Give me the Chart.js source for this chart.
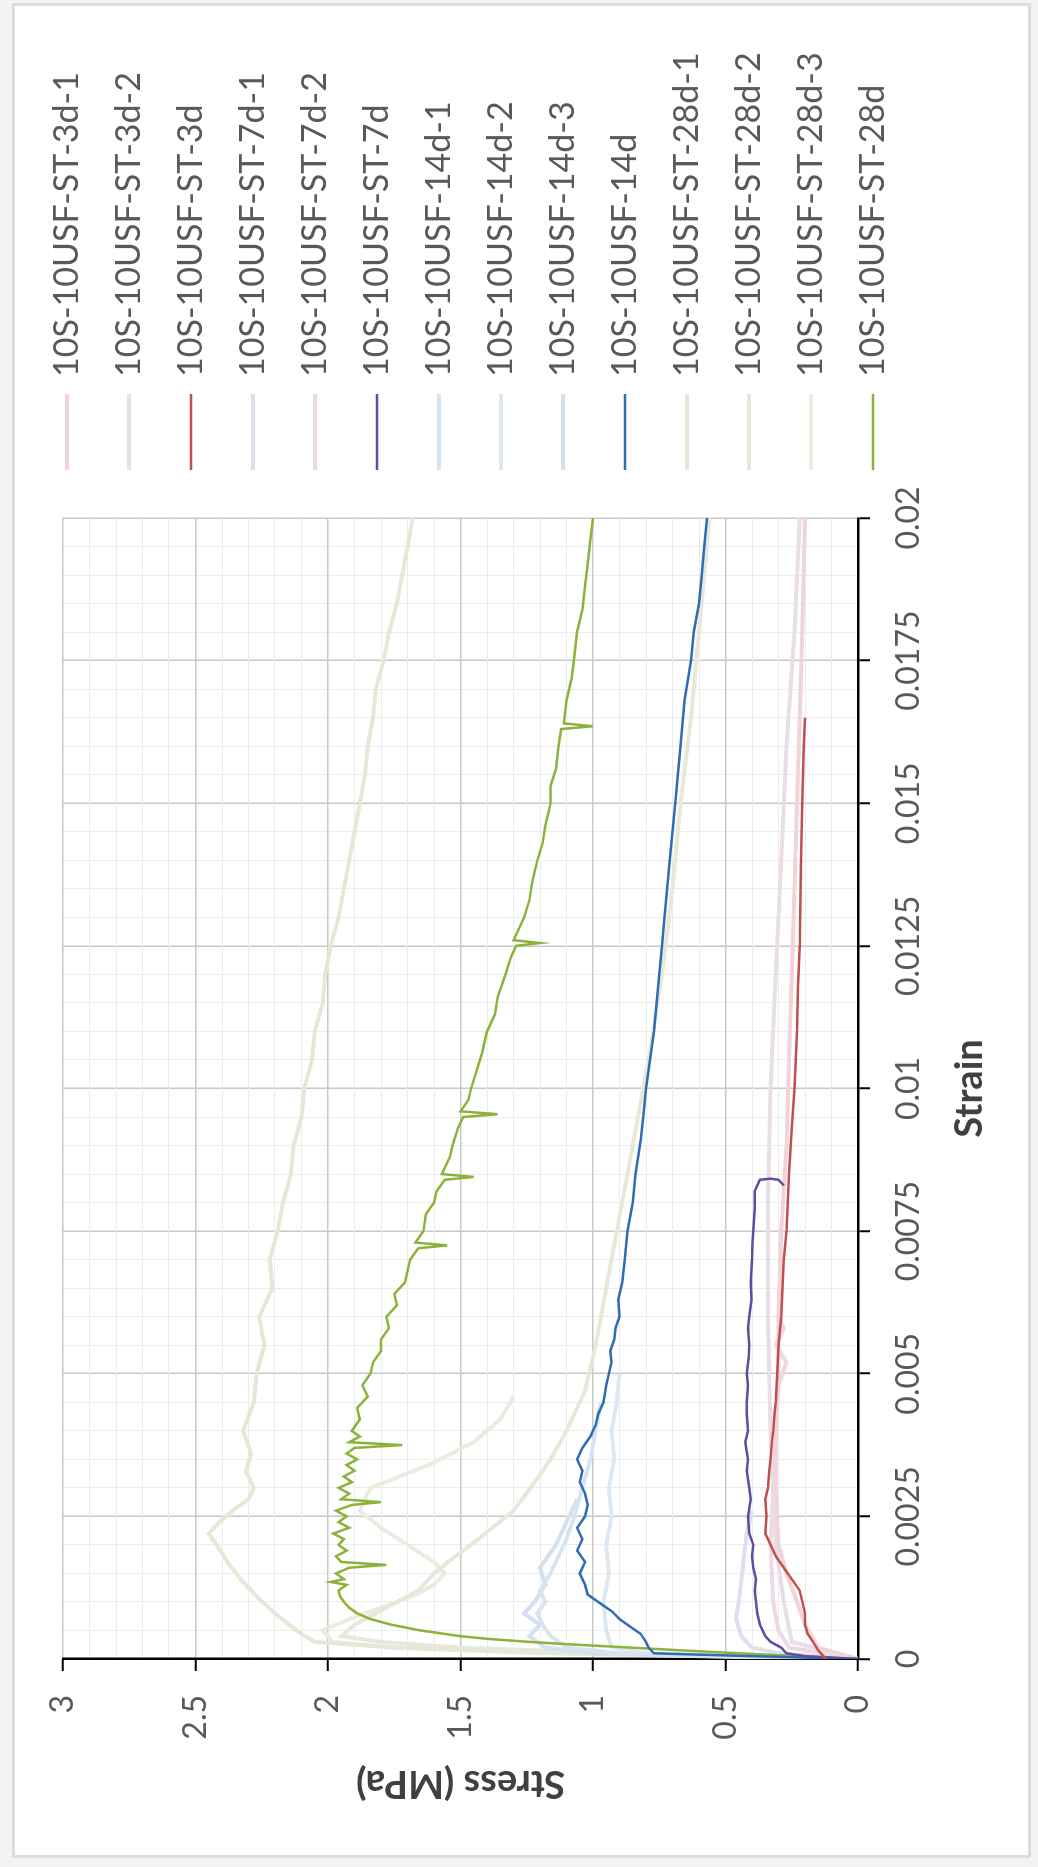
<!DOCTYPE html>
<html>
<head>
<meta charset="utf-8">
<style>
  html, body { margin: 0; padding: 0; background: #f3f3f3; overflow: hidden; }
  /* the chart is drawn landscape, then turned a quarter turn to the left */
  #turn { position: absolute; left: 0; top: 1867px; width: 1867px; height: 1038px;
          transform-origin: 0 0; transform: rotate(-90deg); }
  #frame { position: absolute; left: 9px; top: 12px; width: 1855px; height: 1019px;
           box-sizing: border-box; border: 3px solid #dcdcdc; background: #fff; }
  #stressChart { position: absolute; left: 0; top: 0; }
</style>
</head>
<body>
<div id="turn">
  <div id="frame"></div>
  <canvas id="stressChart" width="1867" height="1038"></canvas>
</div>

<script src="https://cdn.jsdelivr.net/npm/chart.js@4.4.0/dist/chart.umd.min.js"></script>
<script>
    var seriesNames = [
        '10S-10USF-ST-3d-1', '10S-10USF-ST-3d-2', '10S-10USF-ST-3d',
        '10S-10USF-ST-7d-1', '10S-10USF-ST-7d-2', '10S-10USF-ST-7d',
        '10S-10USF-14d-1', '10S-10USF-14d-2', '10S-10USF-14d-3', '10S-10USF-14d',
        '10S-10USF-ST-28d-1', '10S-10USF-ST-28d-2', '10S-10USF-ST-28d-3', '10S-10USF-ST-28d'
    ];

    var strainTicks = [0, 0.0025, 0.005, 0.0075, 0.01, 0.0125, 0.015, 0.0175, 0.02];
    var strainLabels = ['0', '0.0025', '0.005', '0.0075', '0.01', '0.0125', '0.015', '0.0175', '0.02'];
    var stressTicks = [0, 0.5, 1, 1.5, 2, 2.5, 3];
    var stressLabels = ['0', '0.5', '1', '1.5', '2', '2.5', '3'];

    // [strain, stress]
    var curve3d1 = [[0,0],[0.0002,0.15],[0.0006,0.2],[0.001,0.23],[0.0015,0.27],[0.002,0.3],[0.003,0.31],
        [0.004,0.31],[0.005,0.3],[0.006,0.3],[0.0075,0.29],[0.009,0.27],[0.0105,0.26],[0.012,0.25],
        [0.0135,0.24],[0.015,0.23],[0.0165,0.22],[0.018,0.21],[0.02,0.2]];
    var curve3d2 = [[0,0],[0.0003,0.25],[0.001,0.28],[0.002,0.31],[0.004,0.33],[0.006,0.34],[0.008,0.34],
        [0.01,0.33],[0.012,0.31],[0.014,0.29],[0.016,0.27],[0.018,0.24],[0.02,0.22]];
    var curve3d = [[0,0.12],[0.00015,0.15],[0.0003,0.17],[0.00044,0.19],[0.0006,0.2],[0.0008,0.2],[0.001,0.21],
        [0.0012,0.22],[0.0014,0.25],[0.0016,0.28],[0.0018,0.31],[0.002,0.33],[0.0022,0.35],[0.0025,0.345],
        [0.0028,0.35],[0.003,0.34],[0.0033,0.335],[0.0035,0.33],[0.0038,0.325],[0.004,0.32],[0.0043,0.315],
        [0.0045,0.31],[0.005,0.305],[0.0055,0.3],[0.006,0.29],[0.0065,0.285],[0.007,0.28],[0.0075,0.27],
        [0.008,0.265],[0.0085,0.26],[0.0093,0.25],[0.01,0.24],[0.011,0.23],[0.0118,0.226],[0.0125,0.22],
        [0.014,0.215],[0.015,0.21],[0.016,0.205],[0.0165,0.2]];
    var curve7d1 = [[0,0],[0.0001,0.3],[0.0002,0.4],[0.0004,0.44],[0.0007,0.46],[0.001,0.45],[0.0014,0.44],
        [0.0018,0.43],[0.0022,0.42],[0.0026,0.4]];
    var curve7d2 = [[0,0],[0.0002,0.26],[0.0005,0.3],[0.001,0.32],[0.002,0.33],[0.003,0.32],[0.004,0.31],
        [0.0048,0.3],[0.0052,0.27],[0.0055,0.31],[0.0058,0.28],[0.006,0.3],[0.0066,0.29]];
    var curve7d = [[0,0],[0.00005,0.2],[0.0001,0.27],[0.0002,0.29],[0.0003,0.33],[0.0004,0.35],[0.0006,0.37],
        [0.0008,0.38],[0.001,0.385],[0.0012,0.39],[0.0014,0.385],[0.0016,0.395],[0.0018,0.4],[0.002,0.395],
        [0.0022,0.41],[0.0025,0.415],[0.0028,0.405],[0.003,0.41],[0.0033,0.42],[0.0035,0.415],[0.0038,0.425],
        [0.004,0.415],[0.0043,0.42],[0.0045,0.42],[0.0048,0.415],[0.005,0.42],[0.0053,0.412],[0.0055,0.41],
        [0.0058,0.415],[0.006,0.41],[0.0063,0.402],[0.0066,0.405],[0.007,0.4],[0.0073,0.398],[0.0075,0.395],
        [0.0079,0.39],[0.0082,0.39],[0.0084,0.37],[0.00842,0.33],[0.0084,0.3],[0.0083,0.28]];
    var curve14d1 = [[0,0],[0.0001,0.9],[0.0002,1.1],[0.0004,1.16],[0.0006,1.19],[0.0008,1.21],[0.001,1.18],
        [0.0012,1.2],[0.0015,1.16],[0.0018,1.13],[0.0021,1.1],[0.0025,1.07],[0.003,1.04],[0.0035,1.01],
        [0.004,0.99],[0.0045,0.97]];
    var curve14d2 = [[0,0],[0.0001,0.8],[0.0002,0.93],[0.0005,0.95],[0.001,0.96],[0.0015,0.94],[0.002,0.95],
        [0.0025,0.93],[0.003,0.94],[0.0035,0.92],[0.004,0.93],[0.0045,0.91],[0.005,0.9]];
    var curve14d3 = [[0,0],[0.0001,1.0],[0.0002,1.18],[0.0004,1.24],[0.0006,1.2],[0.0008,1.26],[0.001,1.22],
        [0.0013,1.18],[0.0016,1.2],[0.002,1.14],[0.0024,1.1],[0.0028,1.06]];
    var curve14d = [[0,0],[0.00005,0.4],[0.0001,0.77],[0.0002,0.79],[0.0003,0.8],[0.00044,0.82],[0.0006,0.87],
        [0.0007,0.9],[0.00084,0.93],[0.001,0.98],[0.00113,1.02],[0.0013,1.03],[0.0015,1.05],[0.0017,1.03],
        [0.0019,1.06],[0.0021,1.04],[0.0023,1.06],[0.0025,1.03],[0.0027,1.02],[0.0029,1.03],[0.0031,1.05],
        [0.0033,1.04],[0.0035,1.06],[0.0037,1.04],[0.0039,1.01],[0.0041,0.99],[0.0043,0.98],[0.0045,0.96],
        [0.0048,0.95],[0.005,0.94],[0.0052,0.93],[0.0054,0.935],[0.0056,0.92],[0.0058,0.915],[0.006,0.9],
        [0.0063,0.905],[0.0066,0.89],[0.007,0.88],[0.0075,0.87],[0.008,0.85],[0.0085,0.84],[0.0091,0.82],
        [0.0095,0.81],[0.01,0.8],[0.011,0.77],[0.012,0.75],[0.0125,0.74],[0.013,0.73],[0.014,0.71],
        [0.015,0.69],[0.016,0.67],[0.0168,0.655],[0.0175,0.63],[0.018,0.62],[0.0185,0.6],[0.019,0.59],
        [0.0195,0.58],[0.02,0.57]];
    var curve28d1 = [[0,0],[0.0001,1.1],[0.0002,1.75],[0.0003,2.05],[0.0005,2.12],[0.0008,2.2],[0.0011,2.27],
        [0.0014,2.33],[0.0017,2.38],[0.002,2.42],[0.0022,2.45],[0.0024,2.41],[0.0026,2.36],[0.0028,2.3],
        [0.003,2.28],[0.0033,2.31],[0.0036,2.29],[0.004,2.32],[0.0045,2.28],[0.005,2.27],[0.0055,2.24],
        [0.006,2.26],[0.0065,2.21],[0.007,2.22],[0.0075,2.19],[0.008,2.17],[0.0085,2.14],[0.009,2.13],
        [0.0095,2.1],[0.01,2.09],[0.0105,2.06],[0.011,2.05],[0.0115,2.02],[0.012,2.01],[0.0125,1.99],
        [0.013,1.96],[0.0135,1.94],[0.014,1.92],[0.0145,1.9],[0.015,1.88],[0.0155,1.86],[0.016,1.85],
        [0.0165,1.83],[0.017,1.82],[0.0175,1.79],[0.018,1.77],[0.0185,1.74],[0.019,1.72],[0.0195,1.7],[0.02,1.68]];
    var curve28d2 = [[0,0],[0.0001,0.9],[0.0002,1.5],[0.0003,1.8],[0.0004,1.95],[0.0006,1.9],[0.0008,1.82],
        [0.001,1.74],[0.0012,1.66],[0.0015,1.6],[0.0018,1.52],[0.002,1.46],[0.0023,1.38],[0.0026,1.3],
        [0.0031,1.22],[0.0035,1.16],[0.004,1.1],[0.0047,1.03],[0.0055,0.99],[0.006,0.97],[0.007,0.93],
        [0.008,0.89],[0.009,0.85],[0.0105,0.79],[0.012,0.74],[0.0135,0.7],[0.015,0.67],[0.0165,0.63],
        [0.018,0.6],[0.019,0.58],[0.02,0.56]];
    var curve28d3 = [[0,0],[0.0001,1.2],[0.0002,1.75],[0.0003,1.98],[0.0005,2.02],[0.0007,1.92],[0.0009,1.8],
        [0.0011,1.68],[0.0013,1.6],[0.0015,1.56],[0.0017,1.6],[0.002,1.7],[0.0023,1.8],[0.0026,1.88],
        [0.003,1.84],[0.0034,1.62],[0.0038,1.45],[0.0042,1.35],[0.0046,1.3]];
    var curve28d = [[0,0],[0.00005,0.22],[0.0001,0.45],[0.00015,0.66],[0.0002,0.86],[0.00025,1.06],[0.0003,1.24],
        [0.00035,1.39],[0.0004,1.5],[0.0005,1.65],[0.0006,1.76],[0.0007,1.84],[0.0008,1.89],[0.0009,1.92],
        [0.001,1.94],[0.0011,1.955],[0.0012,1.96],[0.0013,1.93],[0.00135,1.99],[0.0014,1.94],[0.0015,1.97],
        [0.0016,1.92],[0.00165,1.78],[0.0017,1.95],[0.0018,1.97],[0.0019,1.93],[0.002,1.96],[0.0021,1.94],
        [0.0022,1.98],[0.0023,1.92],[0.0024,1.96],[0.0025,1.93],[0.0026,1.97],[0.0027,1.91],[0.00275,1.8],
        [0.0028,1.95],[0.0029,1.92],[0.003,1.96],[0.0031,1.91],[0.0032,1.94],[0.0033,1.9],[0.0034,1.93],
        [0.0035,1.89],[0.0036,1.93],[0.0037,1.9],[0.00375,1.72],[0.0038,1.92],[0.0039,1.88],[0.004,1.91],
        [0.0042,1.88],[0.0044,1.89],[0.0046,1.85],[0.0048,1.87],[0.005,1.84],[0.0052,1.83],[0.0054,1.8],
        [0.0056,1.8],[0.0058,1.77],[0.006,1.78],[0.0062,1.74],[0.0064,1.75],[0.0066,1.71],[0.0068,1.7],
        [0.007,1.69],[0.0072,1.66],[0.00725,1.55],[0.0073,1.67],[0.0075,1.64],[0.0078,1.63],[0.008,1.6],
        [0.0082,1.59],[0.0084,1.56],[0.00845,1.45],[0.0085,1.57],[0.0088,1.54],[0.009,1.53],[0.0093,1.51],
        [0.0095,1.49],[0.00955,1.36],[0.0096,1.5],[0.0098,1.47],[0.01,1.46],[0.0103,1.44],[0.0106,1.42],
        [0.011,1.4],[0.0113,1.37],[0.0116,1.36],[0.012,1.33],[0.0123,1.31],[0.0125,1.29],[0.01255,1.2],
        [0.0126,1.3],[0.013,1.26],[0.0133,1.24],[0.0136,1.23],[0.014,1.21],[0.0143,1.19],[0.0146,1.18],
        [0.015,1.16],[0.0153,1.16],[0.0156,1.14],[0.016,1.13],[0.0163,1.12],[0.01635,1.0],[0.0164,1.11],
        [0.0168,1.1],[0.0172,1.08],[0.0176,1.07],[0.018,1.06],[0.0184,1.04],[0.0188,1.03],[0.0192,1.02],
        [0.0196,1.01],[0.02,1.0]];

    var curves = [curve3d1, curve3d2, curve3d, curve7d1, curve7d2, curve7d,
        curve14d1, curve14d2, curve14d3, curve14d, curve28d1, curve28d2, curve28d3, curve28d];
    var isMain = [false, false, true, false, false, true, false, false, false, true, false, false, false, true];
    var lineColors = ['#f0d4d8', '#e9dde8', '#c0504d', '#e2dcf0', '#efd8e6', '#5b4ea3',
        '#d6e4f2', '#dde8f2', '#d2e0ef', '#2e6db4', '#e4e8d6', '#e6e9da', '#e9ecdf', '#8db23a'];

    function tickIndex(list, v) {
        for (var i = 0; i < list.length; i++) {
            if (Math.abs(list[i] - v) < 1e-9) return i;
        }
        return -1;
    }

    // moves the legend column to where the picture has it, and widens its box so no text is clipped
    var legendNudge = {
        id: 'legendNudge',
        afterLayout: function(chart) {
            var lg = chart.legend;
            lg.left += 20;
            lg.right += 140;
            lg.width += 120;
            lg.top -= 41; lg.bottom -= 41;
        }
    };

    var textGrey = '#595959';
    var ctx = document.getElementById('stressChart').getContext('2d');
    var chart = new Chart(ctx, {
        type: 'line',
        data: {
            datasets: seriesNames.map(function(name, i) {
                return {
                    label: name,
                    data: curves[i].map(function(p) { return {x: p[0], y: p[1]}; }),
                    borderColor: lineColors[i],
                    backgroundColor: lineColors[i],
                    borderWidth: isMain[i] ? 2.5 : 4,
                    pointRadius: 0,
                    pointStyle: 'line',
                    tension: 0,
                    order: isMain[i] ? 0 : 1
                };
            })
        },
        options: {
            responsive: false,
            animation: false,
            layout: { padding: { left: 20, top: 63, right: 118, bottom: 40 } },
            scales: {
                x: {
                    type: 'linear',
                    min: 0,
                    max: 0.02,
                    afterFit: function(scale) { scale.height = 140; },
                    border: { display: true, color: '#000', width: 2.5 },
                    grid: {
                        tickLength: 12,
                        color: function(c) { return tickIndex(strainTicks, c.tick.value) >= 0 ? '#c8c8c8' : '#ececec'; },
                        lineWidth: function(c) { return tickIndex(strainTicks, c.tick.value) >= 0 ? 1.5 : 1; },
                        tickColor: function(c) { return tickIndex(strainTicks, c.tick.value) >= 0 ? '#000' : 'rgba(0,0,0,0)'; },
                        tickWidth: 2
                    },
                    ticks: {
                        stepSize: 0.0005,
                        autoSkip: false,
                        minRotation: 0,
                        maxRotation: 0,
                        padding: 19,
                        color: textGrey,
                        font: { family: 'Lato', size: 32 },
                        callback: function(v) {
                            var k = tickIndex(strainTicks, v);
                            return k >= 0 ? strainLabels[k] : '';
                        }
                    },
                    title: {
                        display: true,
                        text: 'Strain',
                        color: '#404040',
                        font: { family: 'Lato', size: 38, weight: 'bold' },
                        padding: { top: 0, bottom: 5 }
                    }
                },
                y: {
                    min: 0,
                    max: 3,
                    afterFit: function(scale) { scale.width = 188; },
                    border: { display: true, color: '#000', width: 2.5 },
                    grid: {
                        tickLength: 12,
                        color: function(c) { return tickIndex(stressTicks, c.tick.value) >= 0 ? '#c8c8c8' : '#ececec'; },
                        lineWidth: function(c) { return tickIndex(stressTicks, c.tick.value) >= 0 ? 1.5 : 1; },
                        tickColor: function(c) { return tickIndex(stressTicks, c.tick.value) >= 0 ? '#000' : 'rgba(0,0,0,0)'; },
                        tickWidth: 2
                    },
                    ticks: {
                        stepSize: 0.1,
                        autoSkip: false,
                        padding: 24,
                        color: textGrey,
                        font: { family: 'Lato', size: 32 },
                        callback: function(v) {
                            var k = tickIndex(stressTicks, v);
                            return k >= 0 ? stressLabels[k] : '';
                        }
                    },
                    title: {
                        display: true,
                        text: 'Stress (MPa)',
                        color: '#404040',
                        font: { family: 'Lato', size: 38, weight: 'bold' },
                        padding: { top: 41, bottom: 0 }
                    }
                }
            },
            plugins: {
                tooltip: { enabled: false },
                legend: {
                    position: 'right',
                    align: 'start',
                    maxWidth: 400,
                    labels: {
                        usePointStyle: true,
                        pointStyleWidth: 76,
                        padding: 28,
                        color: textGrey,
                        font: { family: 'Lato', size: 34 },
                        sort: function(a, b) { return a.datasetIndex - b.datasetIndex; }
                    }
                }
            }
        },
        plugins: [legendNudge]
    });
</script>
</body>
</html>
